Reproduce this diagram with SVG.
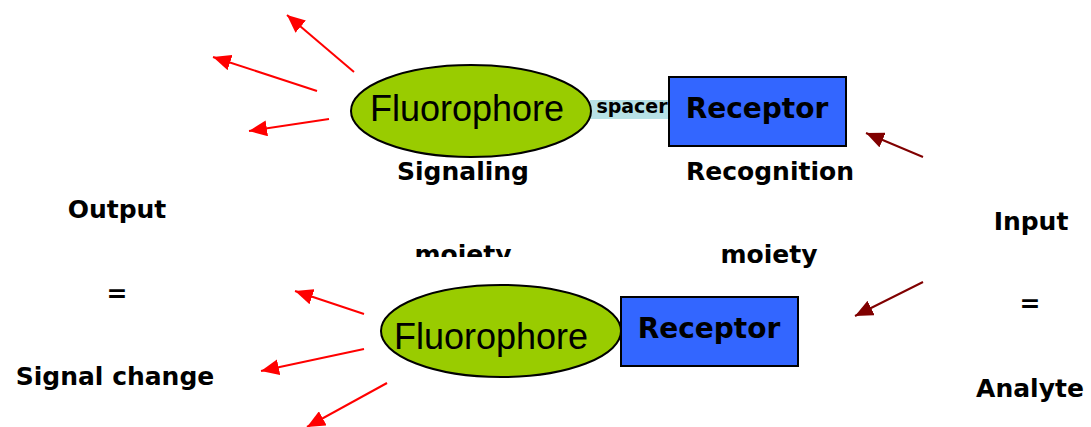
<svg xmlns="http://www.w3.org/2000/svg" width="1091" height="427" viewBox="0 0 1091 427">
  <style>
    .label { font-family: "DejaVu Sans", Verdana, sans-serif; font-weight: bold; fill: #000; text-anchor: middle; }
    .fluor { fill: #99cc00; stroke: #000; stroke-width: 2; }
    .fluor-text { font-family: "Liberation Sans", Arial, sans-serif; font-size: 36px; fill: #000; text-anchor: middle; }
    .receptor { fill: #3366ff; stroke: #000; stroke-width: 2; }
    .receptor-text { font-family: "DejaVu Sans", Verdana, sans-serif; font-weight: bold; font-size: 28px; fill: #000; text-anchor: middle; }
    .emit { stroke: #ff0000; stroke-width: 2; fill: none; }
    .bind { stroke: #800000; stroke-width: 2; fill: none; }
  </style>
  <defs>
    <marker id="head-red" viewBox="0 0 18 16" refX="18" refY="8" markerWidth="18" markerHeight="16" markerUnits="userSpaceOnUse" orient="auto">
      <path d="M0,0 L18,8 L0,16 Z" fill="#ff0000"/>
    </marker>
    <marker id="head-dark" viewBox="0 0 18 16" refX="18" refY="8" markerWidth="18" markerHeight="16" markerUnits="userSpaceOnUse" orient="auto">
      <path d="M0,0 L18,8 L0,16 Z" fill="#800000"/>
    </marker>
    <clipPath id="clip-moiety">
      <rect x="380" y="200" width="180" height="57"/>
    </clipPath>
  </defs>

  <!-- connectors -->
  <g id="connectors">
    <line class="emit" x1="354" y1="72" x2="287" y2="15" marker-end="url(#head-red)"/>
    <line class="emit" x1="317" y1="91" x2="213" y2="57" marker-end="url(#head-red)"/>
    <line class="emit" x1="329" y1="119" x2="249" y2="131" marker-end="url(#head-red)"/>
    <line class="emit" x1="364" y1="314" x2="295" y2="291" marker-end="url(#head-red)"/>
    <line class="emit" x1="364" y1="349" x2="261" y2="371" marker-end="url(#head-red)"/>
    <line class="emit" x1="387" y1="383" x2="307" y2="427" marker-end="url(#head-red)"/>
    <line class="bind" x1="923" y1="157" x2="866" y2="133" marker-end="url(#head-dark)"/>
    <line class="bind" x1="923" y1="282" x2="855" y2="316" marker-end="url(#head-dark)"/>
  </g>

  <!-- free probe: fluorophore - spacer - receptor -->
  <g id="spacer">
    <rect x="590" y="100" width="80" height="19" fill="#b7e1e6"/>
    <text class="label" x="632" y="113" style="font-size:19px">spacer</text>
  </g>
  <g id="fluorophore-top">
    <ellipse class="fluor" cx="471" cy="111" rx="120" ry="46"/>
    <text class="fluor-text" x="467" y="121">Fluorophore</text>
  </g>
  <g id="receptor-top">
    <rect class="receptor" x="669" y="77" width="177" height="69"/>
    <text class="receptor-text" x="757" y="118">Receptor</text>
  </g>

  <!-- bound probe -->
  <g id="fluorophore-bottom">
    <ellipse class="fluor" cx="501" cy="331" rx="120" ry="46"/>
    <text class="fluor-text" x="491" y="349">Fluorophore</text>
  </g>
  <g id="receptor-bottom">
    <rect class="receptor" x="621" y="297" width="177" height="69"/>
    <text class="receptor-text" x="709" y="338">Receptor</text>
  </g>

  <!-- labels -->
  <g id="signaling-label">
    <text class="label" x="463" y="180" style="font-size:25px">Signaling</text>
    <text class="label" x="463" y="263" style="font-size:25px" clip-path="url(#clip-moiety)">moiety</text>
  </g>
  <g id="recognition-label">
    <text class="label" x="770" y="180" style="font-size:25px">Recognition</text>
    <text class="label" x="769" y="263" style="font-size:25px">moiety</text>
  </g>
  <g id="output-label">
    <text class="label" x="117" y="218" style="font-size:25px">Output</text>
    <text class="label" x="117" y="302" style="font-size:25px">=</text>
    <text class="label" x="115" y="385" style="font-size:25px">Signal change</text>
  </g>
  <g id="input-label">
    <text class="label" x="1031" y="230" style="font-size:25px">Input</text>
    <text class="label" x="1030" y="312" style="font-size:25px">=</text>
    <text class="label" x="1030" y="397" style="font-size:25px">Analyte</text>
  </g>
</svg>
